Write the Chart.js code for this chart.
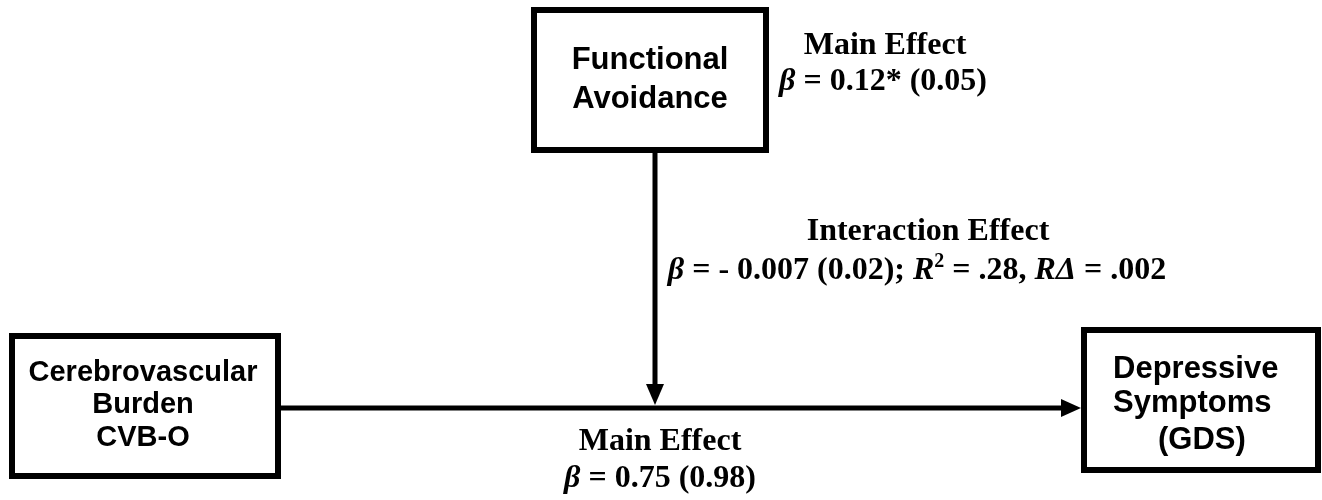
<!DOCTYPE html>
<html>
<head>
<meta charset="utf-8">
<script src="https://cdn.jsdelivr.net/npm/chart.js@4"></script>
<style>
html,body{margin:0;padding:0;background:#fff;}
#wrap{width:1322px;height:500px;}
</style>
</head>
<body>
<div id="wrap"><canvas id="c" width="1322" height="500"></canvas></div>
<script>
// ---- data ----
const nodeNames = ["Functional Avoidance", "Cerebrovascular Burden CVB-O", "Depressive Symptoms (GDS)"];
const nodeLines = [["Functional", "Avoidance"], ["Cerebrovascular", "Burden", "CVB-O"], ["Depressive", "Symptoms", "(GDS)"]];
const effectTitles = ["Main Effect", "Interaction Effect", "Main Effect"];
const betaText = ["0.12*", "- 0.007", "0.75"];
const seText = ["0.05", "0.02", "0.98"];
const r2Text = ".28";
const rDeltaText = ".002";

// ---- layout (coordinates in a 1322 x 500 value space) ----
const boxes = [
  {x0: 534, x1: 766, y0: 10, y1: 150, size: 31, lines: [69, 108], align: 'center', xs: [650, 650]},
  {x0: 12, x1: 278, y0: 336, y1: 476, size: 29, lines: [381, 413, 446], align: 'center', xs: [143, 143, 143]},
  {x0: 1084, x1: 1318, y0: 330, y1: 470, size: 31, lines: [378, 412, 449], align: 'left', xs: [1113, 1113, 1158]}
];
const mainLineY = 408;
const modX = 655;

const chart = new Chart(document.getElementById('c'), {
  type: 'scatter',
  data: {datasets: []},
  options: {
    responsive: false,
    animation: false,
    events: [],
    layout: {padding: 0},
    plugins: {legend: {display: false}, tooltip: {enabled: false}},
    scales: {
      x: {type: 'linear', min: 0, max: 1322, display: false},
      y: {type: 'linear', min: 0, max: 500, reverse: true, display: false}
    }
  },
  plugins: [{
    id: 'diagram',
    afterDraw(ch) {
      const ctx = ch.ctx, X = v => ch.scales.x.getPixelForValue(v), Y = v => ch.scales.y.getPixelForValue(v);
      ctx.save();
      ctx.fillStyle = '#000'; ctx.strokeStyle = '#000';
      // boxes
      ctx.lineWidth = 6;
      boxes.forEach((b, i) => {
        ctx.strokeRect(X(b.x0), Y(b.y0), X(b.x1) - X(b.x0), Y(b.y1) - Y(b.y0));
        ctx.font = "bold " + b.size + "px 'Liberation Sans', Arial, sans-serif";
        ctx.textBaseline = 'alphabetic';
        ctx.textAlign = b.align;
        nodeLines[i].forEach((t, j) => ctx.fillText(t, X(b.xs[j]), Y(b.lines[j])));
      });
      // arrows
      ctx.lineWidth = 5;
      const tipX = X(boxes[2].x0 - 3);
      ctx.beginPath(); ctx.moveTo(X(boxes[1].x1 + 3), Y(mainLineY)); ctx.lineTo(tipX - 16, Y(mainLineY)); ctx.stroke();
      ctx.beginPath(); ctx.moveTo(tipX, Y(mainLineY)); ctx.lineTo(tipX - 20, Y(mainLineY) - 9); ctx.lineTo(tipX - 20, Y(mainLineY) + 9); ctx.closePath(); ctx.fill();
      const tipY = Y(mainLineY - 3);
      ctx.beginPath(); ctx.moveTo(X(modX), Y(boxes[0].y1 + 3)); ctx.lineTo(X(modX), tipY - 16); ctx.stroke();
      ctx.beginPath(); ctx.moveTo(X(modX), tipY); ctx.lineTo(X(modX) - 9, tipY - 21); ctx.lineTo(X(modX) + 9, tipY - 21); ctx.closePath(); ctx.fill();

      // rich text
      const F = "'Liberation Serif', 'Times New Roman', serif";
      const S = 32, SS = 20;
      function rich(segs, cx, base) {
        let w = 0;
        segs.forEach(s => { ctx.font = (s.it ? 'italic ' : '') + 'bold ' + (s.sup ? SS : S) + 'px ' + F; s.w = ctx.measureText(s.t).width; w += s.w; });
        let x = X(cx) - w / 2;
        ctx.textAlign = 'left';
        segs.forEach(s => { ctx.font = (s.it ? 'italic ' : '') + 'bold ' + (s.sup ? SS : S) + 'px ' + F; ctx.fillText(s.t, x, Y(base) - (s.sup ? 12 : 0)); x += s.w; });
      }
      const betaSegs = i => [{t: 'β', it: true}, {t: ' = ' + betaText[i] + ' (' + seText[i] + ')'}];
      rich([{t: effectTitles[0]}], 885, 54);
      rich(betaSegs(0), 883, 90);
      rich([{t: effectTitles[1]}], 928, 240);
      rich([{t: 'β', it: true}, {t: ' = ' + betaText[1] + ' (' + seText[1] + '); '}, {t: 'R', it: true}, {t: '2', sup: true},
            {t: ' = ' + r2Text + ', '}, {t: 'RΔ', it: true}, {t: ' = ' + rDeltaText}], 917, 279);
      rich([{t: effectTitles[2]}], 660, 450);
      rich(betaSegs(2), 660, 487);
      ctx.restore();
    }
  }]
});
</script>
</body>
</html>
